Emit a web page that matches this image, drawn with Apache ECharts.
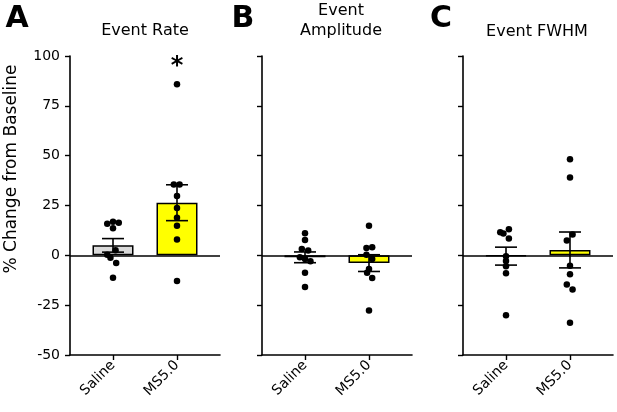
<!DOCTYPE html>
<html>
<head>
<meta charset="utf-8">
<script src="https://cdn.jsdelivr.net/npm/echarts@6/dist/echarts.min.js"></script>
<style>
html,body{margin:0;padding:0;background:#fff;}
#chart{width:617px;height:412px;}
</style>
</head>
<body>
<div id="chart"></div>
<script>
// ---- data ----
var groups = ['Saline', 'MS5.0'];
var panelTitles = ['Event Rate', 'Event\nAmplitude', 'Event FWHM'];
var panelLetters = ['A', 'B', 'C'];
var yTicks = { min: -50, max: 100, step: 25 };

// means and SEM (Saline, MS5.0)
var rateMean = [5.0, 26.4];
var rateSem = [3.4, 9.0];
var ampMean = [-1.0, -3.9];
var ampSem = [2.7, 4.2];
var fwhmMean = [-0.4, 2.7];
var fwhmSem = [4.5, 9.0];

// individual points
var rateSaline = [15.9, 16.9, 16.4, 13.6, 2.5, 0.3, -1.2, -3.9, -11.2];
var rateSalineJit = [-0.09, 0, 0.09, 0, 0.04, -0.09, -0.04, 0.05, 0];
var rateMS = [85.8, 35.5, 35.5, 29.8, 23.8, 18.9, 14.9, 8.0, -12.9];
var rateMSJit = [0, -0.05, 0.04, 0, 0, 0, 0, 0, 0];

var ampSaline = [11.1, 7.7, 3.2, 2.4, -1.0, -1.8, -3.0, -8.8, -15.9];
var ampSalineJit = [0, 0, -0.05, 0.05, -0.08, 0, 0.085, 0, 0];
var ampMS = [14.8, 3.7, 4.0, 0.3, -1.8, -6.8, -8.7, -11.4, -27.7];
var ampMSJit = [0, -0.04, 0.05, -0.04, 0.05, 0, -0.03, 0.05, 0];

var fwhmSaline = [11.6, 10.9, 13.1, 8.4, -0.5, -2.8, -5.5, -9.0, -30.0];
var fwhmSalineJit = [-0.09, -0.04, 0.045, 0.045, 0, 0, 0, 0, 0];
var fwhmMS = [48.2, 39.0, 10.4, 7.5, -5.2, -9.5, -14.6, -17.1, -33.8];
var fwhmMSJit = [0, 0, 0.04, -0.05, 0, 0, -0.05, 0.04, 0];

// significance markers: [panel, group position, y value, text]
var sigMarks = [[0, 2, 94.5, '*']];

// ---- build ----
var panels = [
  { mean: rateMean, sem: rateSem, pts: [rateSaline, rateMS], jit: [rateSalineJit, rateMSJit] },
  { mean: ampMean, sem: ampSem, pts: [ampSaline, ampMS], jit: [ampSalineJit, ampMSJit] },
  { mean: fwhmMean, sem: fwhmSem, pts: [fwhmSaline, fwhmMS], jit: [fwhmSalineJit, fwhmMSJit] }
];
var barColors = ['#d9d9d9', '#ffff00'];
var gridLefts = [70, 262, 463];
var FONT = '"DejaVu Sans", sans-serif';

var grids = [], xAxes = [], yAxes = [], series = [];
panels.forEach(function (p, i) {
  grids.push({ left: gridLefts[i], top: 56, width: 150, height: 299 });
  xAxes.push({
    type: 'value', gridIndex: i, min: 0.328, max: 2.672,
    axisLine: { show: true, onZero: false, lineStyle: { color: '#000', width: 1.6 } },
    axisTick: { show: true, customValues: [1, 2], length: 5, lineStyle: { color: '#000', width: 1.4 } },
    axisLabel: {
      show: true, customValues: [1, 2], rotate: 45, margin: 8,
      fontSize: 14, color: '#000', fontFamily: FONT,
      formatter: function (v) { return groups[Math.round(v) - 1]; }
    },
    splitLine: { show: false }
  });
  yAxes.push({
    type: 'value', gridIndex: i, min: yTicks.min, max: yTicks.max, interval: yTicks.step,
    axisLine: { show: true, onZero: false, lineStyle: { color: '#000', width: 1.6 } },
    axisTick: { show: true, length: 5, lineStyle: { color: '#000', width: 1.4 } },
    axisLabel: { show: i === 0, fontSize: 14, color: '#000', fontFamily: FONT, margin: 10 },
    splitLine: { show: false }
  });
  series.push({
    type: 'bar', xAxisIndex: i, yAxisIndex: i, barWidth: 41, z: 2,
    itemStyle: { borderColor: '#000', borderWidth: 1.5 },
    data: p.mean.map(function (m, g) {
      return { value: [g + 1, m], itemStyle: { color: barColors[g] } };
    }),
    markLine: {
      silent: true, symbol: 'none', label: { show: false },
      lineStyle: { color: '#000', width: 1.6, type: 'solid' },
      data: [{ yAxis: 0 }]
    }
  });
  series.push({
    type: 'custom', xAxisIndex: i, yAxisIndex: i, z: 4,
    data: p.mean.map(function (m, g) { return [g + 1, m, p.sem[g]]; }),
    renderItem: function (params, api) {
      var x = api.value(0), m = api.value(1), s = api.value(2);
      var hi = api.coord([x, m + s]), lo = api.coord([x, m - s]);
      var hw = 11;
      var st = { stroke: '#000', lineWidth: 1.6 };
      return {
        type: 'group', children: [
          { type: 'line', shape: { x1: hi[0], y1: hi[1], x2: lo[0], y2: lo[1] }, style: st },
          { type: 'line', shape: { x1: hi[0] - hw, y1: hi[1], x2: hi[0] + hw, y2: hi[1] }, style: st },
          { type: 'line', shape: { x1: lo[0] - hw, y1: lo[1], x2: lo[0] + hw, y2: lo[1] }, style: st }
        ]
      };
    }
  });
  var pts = [];
  p.pts.forEach(function (arr, g) {
    arr.forEach(function (v, k) { pts.push([g + 1 + p.jit[g][k], v]); });
  });
  series.push({
    type: 'scatter', xAxisIndex: i, yAxisIndex: i, z: 5,
    symbolSize: 6.5, itemStyle: { color: '#000', opacity: 1 }, data: pts
  });
});
sigMarks.forEach(function (s) {
  series.push({
    type: 'scatter', xAxisIndex: s[0], yAxisIndex: s[0], z: 6,
    symbolSize: 0, itemStyle: { color: '#000', opacity: 1 },
    label: { show: true, position: 'inside', formatter: s[3], fontSize: 24, fontWeight: 'bold', color: '#000', opacity: 1, fontFamily: FONT },
    data: [[s[1], s[2]]]
  });
});

var titleX = [145, 341, 537];
var titleY = [31, 21, 32];
var letterX = [17, 243, 441];
var graphics = [];
panelTitles.forEach(function (t, i) {
  graphics.push({
    type: 'text', x: titleX[i], y: titleY[i],
    style: { text: t, font: '16px ' + FONT, fill: '#000', textAlign: 'center', textVerticalAlign: 'middle', lineHeight: 20 }
  });
  graphics.push({
    type: 'text', x: letterX[i], y: 19,
    style: { text: panelLetters[i], font: 'bold 30px ' + FONT, fill: '#000', textAlign: 'center', textVerticalAlign: 'middle' }
  });
});
graphics.push({
  type: 'text', x: 12, y: 169, rotation: Math.PI / 2,
  style: { text: '% Change from Baseline', font: '17px ' + FONT, fill: '#000', textAlign: 'center', textVerticalAlign: 'middle' }
});

var chart = echarts.init(document.getElementById('chart'), null, { renderer: 'canvas' });
chart.setOption({
  animation: false,
  backgroundColor: '#fff',
  grid: grids, xAxis: xAxes, yAxis: yAxes, series: series,
  graphic: graphics
});
</script>
</body>
</html>
